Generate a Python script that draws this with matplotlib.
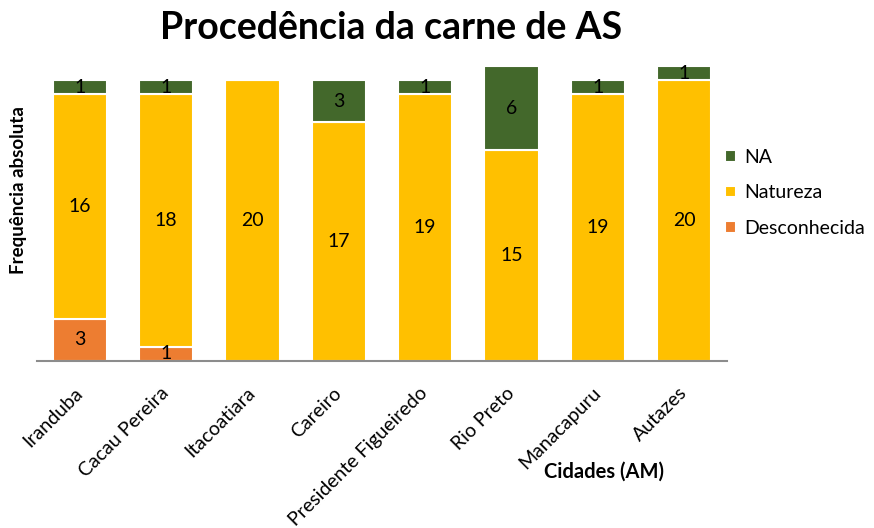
import matplotlib.pyplot as plt
import numpy as np

cidades      = ["Iranduba", "Cacau Pereira", "Itacoatiara", "Careiro",
                "Presidente Figueiredo", "Rio Preto", "Manacapuru", "Autazes"]
desconhecida = [3, 1, 0, 0, 0, 0, 0, 0]
natureza     = [16, 18, 20, 17, 19, 15, 19, 20]
na           = [1, 1, 0, 3, 1, 6, 1, 1]

plt.rcParams["font.family"] = ["Lato", "DejaVu Sans"]

fig = plt.figure(figsize=(8.74, 5.28), dpi=100)
ax = fig.add_axes([0.042, 0.3163, 0.79, 0.5587])

x = np.arange(len(cidades))
desc = np.array(desconhecida)
nat = np.array(natureza)
nav = np.array(na)

series = [
    ("Desconhecida", desc, np.zeros(len(x)), "#ED7D31"),
    ("Natureza", nat, desc, "#FFC000"),
    ("NA", nav, desc + nat, "#43682B"),
]

handles = []
for name, vals, bottom, color in series:
    bars = ax.bar(x, vals, bottom=bottom, width=0.63, color=color,
                  edgecolor="white", linewidth=1.5, label=name)
    handles.append(bars)
    for xi, v, b in zip(x, vals, bottom):
        if v > 0:
            ax.text(xi, b + v / 2, str(v), ha="center", va="center",
                    fontsize=14, color="black")

ax.set_xlim(-0.5, 7.5)
ax.set_ylim(0, 21)
ax.set_yticks([])
for s in ["top", "right", "left"]:
    ax.spines[s].set_visible(False)
ax.spines["bottom"].set_color("#8C8C8C")
ax.spines["bottom"].set_linewidth(1.5)

ax.set_xticks(x)
ax.set_xticklabels(cidades, rotation=45, ha="right", va="center",
                   rotation_mode="anchor", fontsize=14)
ax.tick_params(axis="x", length=0, pad=21)

fig.text(0.447, 0.947, "Procedência da carne de AS", ha="center", va="center",
         fontsize=27, fontweight="bold")
fig.text(0.021, 0.64, "Frequência absoluta", ha="center", va="center",
         rotation=90, fontsize=13.5, fontweight="bold")
fig.text(0.691, 0.106, "Cidades (AM)", ha="center", va="center",
         fontsize=14.5, fontweight="bold")

leg = ax.legend(handles[::-1], ["NA", "Natureza", "Desconhecida"],
                loc="center left", bbox_to_anchor=(0.972, 0.57), frameon=False,
                fontsize=14, handlelength=0.55, handleheight=0.55,
                handletextpad=0.4, labelspacing=0.95)

fig.savefig("out.png", dpi=100)
